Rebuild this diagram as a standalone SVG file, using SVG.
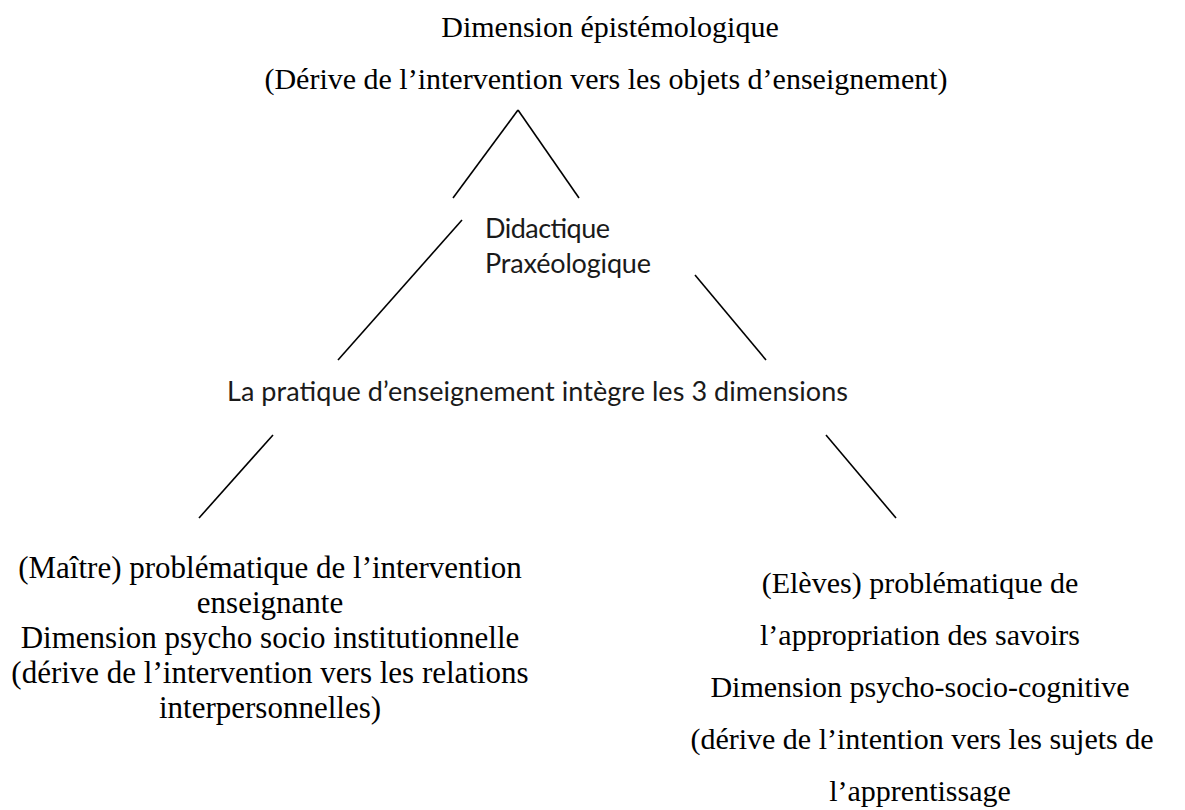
<svg xmlns="http://www.w3.org/2000/svg" width="1185" height="810" viewBox="0 0 1185 810">
<style>
.serif{font-family:"Liberation Serif","Times New Roman",serif;font-size:30px;fill:#000;text-anchor:middle}
.big{font-size:31px}
.sans{font-family:Lato,"Open Sans",sans-serif;font-size:27px;fill:#1a1a1a}
.ln{stroke:#000;stroke-width:1.6;fill:none;stroke-linecap:butt}
</style>
<rect width="1185" height="810" fill="#fff"/>
<g id="top">
<text class="serif" x="610" y="37">Dimension épistémologique</text>
<text class="serif" x="606" y="89">(Dérive de l’intervention vers les objets d’enseignement)</text>
</g>
<g id="center">
<text class="sans" x="485" y="238" textLength="125" lengthAdjust="spacing">Didactique</text>
<text class="sans" x="485" y="273" textLength="166" lengthAdjust="spacing">Praxéologique</text>
</g>
<g id="middle">
<text class="sans" x="227" y="401" textLength="621" lengthAdjust="spacing">La pratique d’enseignement intègre les 3 dimensions</text>
</g>
<g id="left">
<text class="serif big" x="270" y="578">(Maître) problématique de l’intervention</text>
<text class="serif big" x="270" y="613">enseignante</text>
<text class="serif big" x="270" y="648">Dimension psycho socio institutionnelle</text>
<text class="serif big" x="270" y="683">(dérive de l’intervention vers les relations</text>
<text class="serif big" x="270" y="718">interpersonnelles)</text>
</g>
<g id="right">
<text class="serif" x="920" y="593">(Elèves) problématique de</text>
<text class="serif" x="920" y="645">l’appropriation des savoirs</text>
<text class="serif" x="920" y="697">Dimension psycho-socio-cognitive</text>
<text class="serif" x="922" y="749">(dérive de l’intention vers les sujets de</text>
<text class="serif" x="920" y="801">l’apprentissage</text>
</g>
<g id="connectors">
<line class="ln" x1="518" y1="110" x2="453" y2="198"/>
<line class="ln" x1="518" y1="110" x2="579" y2="198"/>
<line class="ln" x1="462" y1="220" x2="338" y2="360"/>
<line class="ln" x1="695" y1="275" x2="766" y2="360"/>
<line class="ln" x1="273" y1="435" x2="199" y2="518"/>
<line class="ln" x1="826" y1="435" x2="896" y2="518"/>
</g>
</svg>
